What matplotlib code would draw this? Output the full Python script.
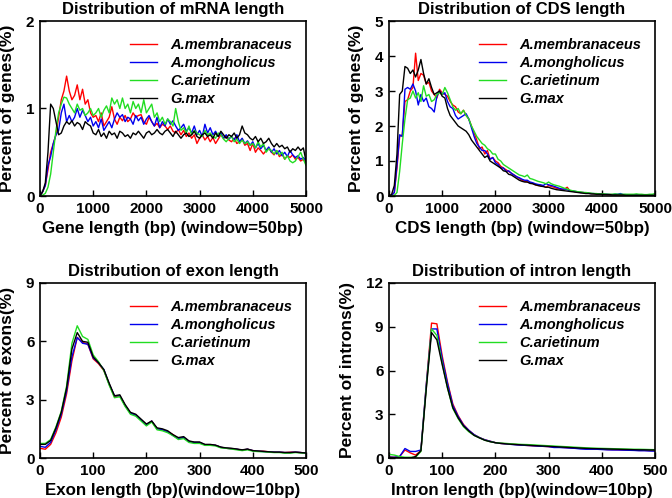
import numpy as np
import matplotlib
matplotlib.use("Agg")
import matplotlib.pyplot as plt
from matplotlib.font_manager import FontProperties

plt.rcParams['font.family'] = ['Liberation Sans', 'DejaVu Sans']
plt.rcParams['font.weight'] = 'bold'
plt.rcParams['axes.labelweight'] = 'bold'
plt.rcParams['axes.titleweight'] = 'bold'

species = ["A.membranaceus", "A.mongholicus", "C.arietinum", "G.max"]
colors = ["#FF0000", "#0000EE", "#22DD22", "#000000"]

# ---------------- mRNA length (window = 50 bp) ----------------
mrna_x = list(range(0, 5001, 50))
mrna_mem = [0, 0.05, 0.12, 0.3, 0.5, 0.6, 0.7, 0.9, 1.1, 1.2,
            1.37, 1.2, 1.1, 1.15, 1.27, 1.1, 1.22, 1.05, 1.1, 0.95,
            0.9, 0.92, 0.85, 0.95, 0.8, 0.85, 0.9, 1.02, 0.88, 0.82,
            0.9, 0.86, 0.92, 0.85, 0.88, 0.95, 0.9, 0.92, 0.93, 0.85,
            0.82, 0.9, 0.85, 0.8, 0.83, 0.78, 0.82, 0.8, 0.76, 0.8,
            0.74, 0.72, 0.76, 0.7, 0.75, 0.68, 0.72, 0.66, 0.7, 0.6,
            0.66, 0.7, 0.64, 0.68, 0.62, 0.67, 0.6, 0.65, 0.7, 0.66,
            0.68, 0.64, 0.62, 0.66, 0.6, 0.62, 0.65, 0.58, 0.6, 0.52,
            0.6, 0.5, 0.55, 0.52, 0.48, 0.52, 0.55, 0.5, 0.47, 0.52,
            0.45, 0.48, 0.42, 0.46, 0.44, 0.47, 0.42, 0.44, 0.4, 0.42,
            0.38]
mrna_mon = [0, 0.05, 0.12, 0.35, 0.45, 0.6, 0.7, 0.75, 0.95, 1.05,
            0.85, 0.92, 0.85, 0.9, 1.0, 0.9, 0.98, 0.92, 0.85, 0.9,
            0.8, 0.85, 0.78, 0.88, 0.75, 0.8, 0.85, 0.78, 0.88, 0.95,
            0.9, 0.93, 0.85, 0.9, 0.88, 0.82, 0.92, 0.86, 0.9, 0.82,
            0.88, 0.92, 0.85, 0.8, 0.9, 0.78, 0.85, 0.8, 0.88, 0.82,
            0.86, 0.8, 0.75, 0.78, 0.82, 0.74, 0.78, 0.72, 0.8, 0.7,
            0.75, 0.68, 0.82, 0.72, 0.78, 0.7, 0.74, 0.68, 0.72, 0.66,
            0.7, 0.65, 0.68, 0.64, 0.7, 0.62, 0.66, 0.6, 0.63, 0.58,
            0.62, 0.55, 0.6, 0.54, 0.58, 0.52, 0.56, 0.5, 0.54, 0.48,
            0.52, 0.46, 0.5, 0.45, 0.52, 0.47, 0.44, 0.46, 0.42, 0.44,
            0.4]
mrna_ari = [0, 0.01, 0.03, 0.1, 0.25, 0.5, 0.75, 0.95, 1.05, 1.13,
            1.12, 1.05, 1.0, 0.95, 1.05, 0.98, 1.0, 0.92, 0.95, 1.0,
            0.92, 0.95, 1.0, 0.9, 0.98, 1.03, 0.95, 1.12, 1.05, 1.1,
            1.0, 1.12, 1.0, 1.05, 0.95, 1.08, 1.0, 1.05, 0.95, 1.1,
            0.95, 1.0, 1.05, 0.9, 0.95, 0.85, 0.9, 0.82, 0.88, 0.85,
            0.8, 1.0, 0.85, 0.75, 0.78, 0.72, 0.8, 0.7, 0.75, 0.72,
            0.7, 0.68, 0.75, 0.7, 0.72, 0.68, 0.66, 0.72, 0.7, 0.65,
            0.62, 0.66, 0.68, 0.62, 0.65, 0.6, 0.64, 0.6, 0.62, 0.58,
            0.6, 0.55, 0.62, 0.56, 0.6, 0.5, 0.54, 0.52, 0.48, 0.52,
            0.47, 0.5, 0.42, 0.46, 0.4, 0.38, 0.4, 0.45, 0.5, 0.42,
            0.35]
mrna_max = [0, 0.05, 0.15, 0.5, 1.05, 1.0, 0.85, 0.7, 0.72, 0.8,
            0.85, 0.82, 0.86, 0.8, 0.84, 0.82, 0.76, 0.85, 0.82, 0.8,
            0.72, 0.7, 0.76, 0.68, 0.72, 0.66, 0.74, 0.7, 0.72, 0.66,
            0.74, 0.72, 0.68, 0.7, 0.66, 0.72, 0.7, 0.74, 0.7, 0.66,
            0.72, 0.74, 0.7, 0.72, 0.76, 0.72, 0.7, 0.74, 0.76, 0.72,
            0.68, 0.74, 0.7, 0.66, 0.7, 0.72, 0.68, 0.7, 0.74, 0.68,
            0.66, 0.7, 0.72, 0.68, 0.7, 0.66, 0.72, 0.68, 0.74, 0.7,
            0.66, 0.7, 0.68, 0.72, 0.66, 0.7, 0.8, 0.72, 0.7, 0.66,
            0.64, 0.68, 0.62, 0.66, 0.6, 0.62, 0.66, 0.6, 0.56, 0.6,
            0.56, 0.58, 0.54, 0.56, 0.5, 0.54, 0.52, 0.56, 0.52, 0.55,
            0.4]

# ---------------- CDS length (window = 50 bp) ----------------
cds_x = list(range(0, 5001, 50))
cds_mem = [0, 0.02, 0.1, 0.8, 1.7, 1.75, 2.7, 2.75, 3.0, 3.1,
           4.08, 3.3, 3.5, 3.45, 3.2, 3.25, 3.0, 2.9, 2.8, 3.05,
           2.95, 2.9, 2.85, 2.7, 2.6, 2.55, 2.4, 2.35, 2.45, 2.3,
           2.2, 2.0, 1.8, 1.6, 1.35, 1.4, 1.2, 1.3, 1.05, 1.1,
           1.0, 0.95, 0.85, 0.8, 0.75, 0.7, 0.65, 0.6, 0.55, 0.5,
           0.45, 0.42, 0.4, 0.38, 0.36, 0.32, 0.3, 0.3, 0.28, 0.25,
           0.3, 0.27, 0.25, 0.22, 0.2, 0.18, 0.2, 0.25, 0.15, 0.14,
           0.12, 0.12, 0.1, 0.1, 0.08, 0.08, 0.07, 0.06, 0.06, 0.05,
           0.05, 0.05, 0.04, 0.04, 0.04, 0.03, 0.03, 0.03, 0.03, 0.02,
           0.02, 0.02, 0.02, 0.02, 0.02, 0.02, 0.02, 0.02, 0.02, 0.02,
           0.02]
cds_mon = [0, 0.02, 0.1, 0.9, 1.75, 1.7, 3.05, 3.1, 3.05, 3.2,
           3.0, 2.6, 2.9, 2.7, 2.8, 2.55, 2.5, 2.4, 2.85, 3.0,
           2.9, 2.95, 2.7, 2.55, 2.5, 2.3, 2.2, 2.25, 2.3, 2.35,
           2.2, 1.95, 1.7, 1.5, 1.4, 1.3, 1.3, 1.2, 1.05, 1.1,
           0.95, 0.9, 0.8, 0.8, 0.7, 0.72, 0.65, 0.6, 0.55, 0.52,
           0.48, 0.45, 0.45, 0.4, 0.38, 0.35, 0.33, 0.32, 0.3, 0.35,
           0.32, 0.3, 0.28, 0.25, 0.22, 0.2, 0.2, 0.18, 0.15, 0.14,
           0.13, 0.12, 0.1, 0.1, 0.09, 0.08, 0.07, 0.07, 0.06, 0.06,
           0.05, 0.05, 0.05, 0.04, 0.04, 0.05, 0.05, 0.07, 0.04, 0.04,
           0.03, 0.03, 0.03, 0.03, 0.03, 0.02, 0.02, 0.02, 0.02, 0.02,
           0.02]
cds_ari = [0, 0.0, 0.02, 0.1, 0.7, 1.5, 2.2, 2.75, 2.8, 3.0,
           2.8, 2.95, 2.7, 3.15, 2.85, 2.9, 2.7, 2.75, 2.9, 2.95,
           2.9, 3.1, 2.95, 2.75, 2.55, 2.45, 2.5, 2.35, 2.45, 2.3,
           2.2, 2.0, 1.85, 1.7, 1.6, 1.5, 1.45, 1.35, 1.3, 1.2,
           1.2, 1.05, 1.0, 0.9, 0.85, 0.8, 0.75, 0.7, 0.65, 0.6,
           0.58, 0.55, 0.6, 0.5, 0.48, 0.45, 0.42, 0.4, 0.38, 0.35,
           0.4, 0.35, 0.32, 0.3, 0.28, 0.25, 0.22, 0.2, 0.17, 0.15,
           0.14, 0.12, 0.12, 0.1, 0.1, 0.09, 0.08, 0.07, 0.07, 0.06,
           0.06, 0.06, 0.05, 0.05, 0.05, 0.06, 0.05, 0.05, 0.05, 0.05,
           0.05, 0.05, 0.05, 0.06, 0.05, 0.05, 0.04, 0.04, 0.05, 0.05,
           0.07]
cds_max = [0, 0.05, 0.3, 1.2, 2.9, 3.0, 3.7, 3.65, 3.5, 3.6,
           3.4, 3.6, 3.9, 3.5, 3.2, 3.35, 3.1, 2.9, 2.95, 3.0,
           2.85, 2.8, 2.5, 2.3, 2.2, 2.1, 2.0, 1.95, 1.9, 1.85,
           1.75, 1.6, 1.5, 1.4, 1.3, 1.2, 1.1, 1.15, 1.0, 0.95,
           0.9, 0.85, 0.8, 0.72, 0.7, 0.62, 0.6, 0.55, 0.5, 0.45,
           0.42, 0.4, 0.4, 0.36, 0.35, 0.32, 0.3, 0.28, 0.27, 0.25,
           0.25, 0.22, 0.2, 0.18, 0.17, 0.16, 0.15, 0.14, 0.13, 0.12,
           0.11, 0.1, 0.09, 0.08, 0.07, 0.07, 0.06, 0.06, 0.05, 0.05,
           0.05, 0.04, 0.04, 0.04, 0.03, 0.03, 0.03, 0.03, 0.03, 0.02,
           0.02, 0.02, 0.02, 0.02, 0.02, 0.02, 0.02, 0.02, 0.02, 0.02,
           0.02]

# ---------------- exon length (window = 10 bp) ----------------
exon_x = list(range(0, 501, 10))
exon_mem = [0.5, 0.45, 0.7, 1.3, 2.1, 3.3, 5.0, 6.2, 5.95, 5.85,
            5.1, 4.85, 4.5, 3.8, 3.15, 3.2, 2.7, 2.3, 2.2, 1.95,
            1.7, 1.9, 1.5, 1.45, 1.35, 1.2, 1.0, 1.05, 0.85, 0.8,
            0.8, 0.68, 0.68, 0.65, 0.55, 0.5, 0.48, 0.45, 0.4, 0.45,
            0.38, 0.35, 0.35, 0.32, 0.3, 0.3, 0.28, 0.3, 0.3, 0.28,
            0.25]
exon_mon = [0.6, 0.55, 0.8, 1.45, 2.25, 3.45, 5.2, 6.2, 5.9, 5.85,
            5.15, 4.9, 4.55, 3.8, 3.2, 3.2, 2.7, 2.3, 2.2, 1.95,
            1.7, 1.9, 1.5, 1.45, 1.35, 1.15, 1.0, 1.05, 0.85, 0.8,
            0.8, 0.68, 0.68, 0.65, 0.55, 0.5, 0.48, 0.45, 0.4, 0.45,
            0.38, 0.35, 0.33, 0.32, 0.3, 0.3, 0.28, 0.28, 0.3, 0.28,
            0.25]
exon_ari = [0.75, 0.75, 0.95, 1.6, 2.4, 3.7, 5.9, 6.8, 6.25, 6.1,
            5.3, 4.95, 4.5, 3.75, 3.1, 3.15, 2.65, 2.25, 2.15, 1.9,
            1.65, 1.85, 1.45, 1.4, 1.3, 1.15, 0.95, 1.0, 0.8, 0.75,
            0.75, 0.65, 0.65, 0.62, 0.52, 0.5, 0.46, 0.42, 0.38, 0.42,
            0.35, 0.33, 0.32, 0.3, 0.28, 0.28, 0.25, 0.25, 0.28, 0.26,
            0.25]
exon_max = [0.7, 0.7, 0.9, 1.55, 2.35, 3.6, 5.6, 6.45, 6.0, 5.95,
            5.2, 4.9, 4.55, 3.85, 3.2, 3.25, 2.75, 2.35, 2.25, 2.0,
            1.75, 1.9, 1.55, 1.5, 1.4, 1.2, 1.05, 1.1, 0.88, 0.82,
            0.82, 0.7, 0.7, 0.66, 0.56, 0.52, 0.5, 0.46, 0.42, 0.46,
            0.38, 0.36, 0.34, 0.32, 0.3, 0.3, 0.28, 0.28, 0.3, 0.28,
            0.26]

# ---------------- intron length (window = 10 bp) ----------------
intron_x = list(range(0, 501, 10))
intron_mem = [0.05, 0.05, 0.1, 0.55, 0.35, 0.2, 0.5, 5.0, 9.25, 9.2,
              7.0, 5.2, 3.7, 2.9, 2.3, 1.9, 1.6, 1.4, 1.25, 1.15,
              1.05, 1.0, 0.98, 0.95, 0.92, 0.88, 0.86, 0.84, 0.82, 0.8,
              0.78, 0.76, 0.74, 0.72, 0.7, 0.68, 0.66, 0.64, 0.62, 0.62,
              0.6, 0.58, 0.57, 0.56, 0.55, 0.54, 0.53, 0.52, 0.52, 0.51,
              0.5]
intron_mon = [0.05, 0.05, 0.1, 0.65, 0.45, 0.45, 0.55, 5.0, 8.85, 8.85,
              6.8, 5.1, 3.6, 2.85, 2.25, 1.9, 1.6, 1.4, 1.25, 1.15,
              1.05, 1.0, 0.97, 0.93, 0.9, 0.88, 0.86, 0.84, 0.82, 0.8,
              0.78, 0.72, 0.72, 0.7, 0.68, 0.66, 0.62, 0.6, 0.6, 0.6,
              0.58, 0.56, 0.55, 0.55, 0.54, 0.53, 0.52, 0.5, 0.5, 0.48,
              0.47]
intron_ari = [0.25, 0.2, 0.1, 0.05, 0.05, 0.05, 0.45, 4.8, 8.85, 8.4,
              6.5, 4.8, 3.4, 2.7, 2.15, 1.8, 1.55, 1.38, 1.22, 1.12,
              1.05, 1.02, 1.0, 0.97, 0.95, 0.93, 0.92, 0.9, 0.88, 0.86,
              0.84, 0.82, 0.8, 0.78, 0.76, 0.74, 0.72, 0.7, 0.68, 0.67,
              0.66, 0.65, 0.64, 0.63, 0.62, 0.61, 0.6, 0.6, 0.59, 0.58,
              0.57]
intron_max = [0.05, 0.02, 0.0, 0.0, 0.0, 0.1, 0.5, 4.7, 8.6, 8.1,
              6.4, 4.8, 3.45, 2.75, 2.2, 1.85, 1.55, 1.38, 1.22, 1.12,
              1.05, 1.0, 0.97, 0.94, 0.92, 0.9, 0.88, 0.86, 0.84, 0.82,
              0.8, 0.78, 0.76, 0.74, 0.72, 0.7, 0.68, 0.66, 0.65, 0.64,
              0.63, 0.62, 0.61, 0.6, 0.59, 0.58, 0.57, 0.56, 0.56, 0.55,
              0.55]

panels = [
    dict(x=mrna_x, ys=[mrna_mem, mrna_mon, mrna_ari, mrna_max],
         title="Distribution of mRNA length", xlabel="Gene length (bp) (window=50bp)",
         ylabel="Percent of genes(%)", xlim=(0, 5000), xticks=[0, 1000, 2000, 3000, 4000, 5000],
         ylim=(0, 2), yticks=[0, 1, 2], pos=(40, 21)),
    dict(x=cds_x, ys=[cds_mem, cds_mon, cds_ari, cds_max],
         title="Distribution of CDS length", xlabel="CDS length (bp) (window=50bp)",
         ylabel="Percent of genes(%)", xlim=(0, 5000), xticks=[0, 1000, 2000, 3000, 4000, 5000],
         ylim=(0, 5), yticks=[0, 1, 2, 3, 4, 5], pos=(389, 21)),
    dict(x=exon_x, ys=[exon_mem, exon_mon, exon_ari, exon_max],
         title="Distribution of exon length", xlabel="Exon length (bp)(window=10bp)",
         ylabel="Percent of exons(%)", xlim=(0, 500), xticks=[0, 100, 200, 300, 400, 500],
         ylim=(0, 9), yticks=[0, 3, 6, 9], pos=(40, 283)),
    dict(x=intron_x, ys=[intron_mem, intron_mon, intron_ari, intron_max],
         title="Distribution of intron length", xlabel="Intron length (bp)(window=10bp)",
         ylabel="Percent of introns(%)", xlim=(0, 500), xticks=[0, 100, 200, 300, 400, 500],
         ylim=(0, 12), yticks=[0, 3, 6, 9, 12], pos=(389, 283)),
]

W, H = 672, 498
fig = plt.figure(figsize=(W / 100, H / 100), dpi=100)
leg_font = FontProperties(family='Liberation Sans', weight='bold', style='italic', size=10.5)

for p in panels:
    left, top = p["pos"]
    ax = fig.add_axes([left / W, 1 - (top + 175) / H, 266 / W, 175 / H])
    for y, c, name in zip(p["ys"], colors, species):
        ax.plot(p["x"], y, color=c, lw=1.0, label=name)
    ax.set_xlim(*p["xlim"])
    ax.set_ylim(*p["ylim"])
    ax.set_xticks(p["xticks"])
    ax.set_yticks(p["yticks"])
    ax.tick_params(direction='in', length=4, width=1, labelsize=11, pad=4)
    for s in ax.spines.values():
        s.set_linewidth(1.2)
    ax.set_title(p["title"], fontsize=12, pad=5)
    ax.set_xlabel(p["xlabel"], fontsize=12.2, labelpad=4)
    ax.set_ylabel(p["ylabel"], fontsize=12.5, labelpad=8)
    ax.legend(loc='upper left', bbox_to_anchor=(0.338, 0.905), frameon=False,
              handlelength=1.85, handletextpad=0.9, labelspacing=0.29,
              borderpad=0, borderaxespad=0, prop=leg_font)

fig.savefig("out.png", dpi=100)
